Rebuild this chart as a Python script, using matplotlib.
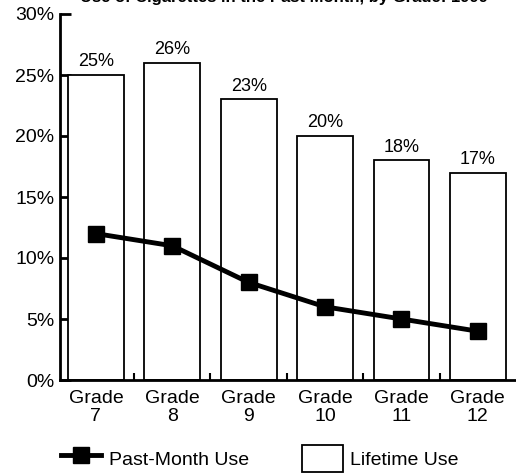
import numpy as np
import matplotlib.pyplot as plt
from matplotlib.lines import Line2D
from matplotlib.patches import Patch

plt.rcParams['font.family'] = ['Liberation Sans', 'DejaVu Sans']

grades = ['Grade\n7', 'Grade\n8', 'Grade\n9', 'Grade\n10', 'Grade\n11', 'Grade\n12']
lifetime = [25, 26, 23, 20, 18, 17]
past_month = [12, 11, 8, 6, 5, 4]
yticks = [0, 5, 10, 15, 20, 25, 30]

fig = plt.figure(figsize=(5.16, 4.73), dpi=100)
ax = fig.add_axes([60 / 516, 93 / 473, 456 / 516, 366 / 473])

x = np.arange(len(grades))
ax.bar(x, lifetime, width=0.73, color='white', edgecolor='black', linewidth=1.3, zorder=2)
for xi, v in zip(x, lifetime):
    ax.text(xi, v + 0.4, f'{v}%', ha='center', va='bottom', fontsize=13)

ax.plot(x, past_month, color='black', linewidth=3.5, marker='s', markersize=12, zorder=3)

ax.set_xlim(-0.47, 5.5)
ax.set_ylim(0, 30)
ax.set_yticks(yticks)
ax.set_yticklabels([f'{t}%' for t in yticks], fontsize=14)
ax.set_xticks(x)
ax.set_xticklabels(grades, fontsize=14, linespacing=1.1)
ax.tick_params(axis='x', length=0, pad=7)
ax.set_xticks(x[:-1] + 0.5, minor=True)
ax.tick_params(axis='x', which='minor', direction='in', length=5, width=1.5)
ax.tick_params(axis='y', direction='in', length=8, width=2, pad=4)
ax.spines['top'].set_visible(False)
ax.spines['right'].set_visible(False)
ax.spines['left'].set_linewidth(2)
ax.spines['bottom'].set_linewidth(2)

handles = [Line2D([0], [0], color='black', linewidth=3.5, marker='s', markersize=12),
           Patch(facecolor='white', edgecolor='black', linewidth=1.3)]
fig.legend(handles, ['Past-Month Use', 'Lifetime Use'], loc='lower left',
           bbox_to_anchor=(43 / 516, -0.035), ncol=2, frameon=False, fontsize=14,
           handlelength=2.1, handleheight=1.8, handletextpad=0.4, columnspacing=2.7)

# title is cut off at the top edge in the source image
fig.text(0.55, 1 - 2 / 473, 'Use of Cigarettes in the Past Month, by Grade: 1999',
         ha='center', va='baseline', fontsize=12, fontweight='bold')

fig.savefig('out.png', dpi=100)
